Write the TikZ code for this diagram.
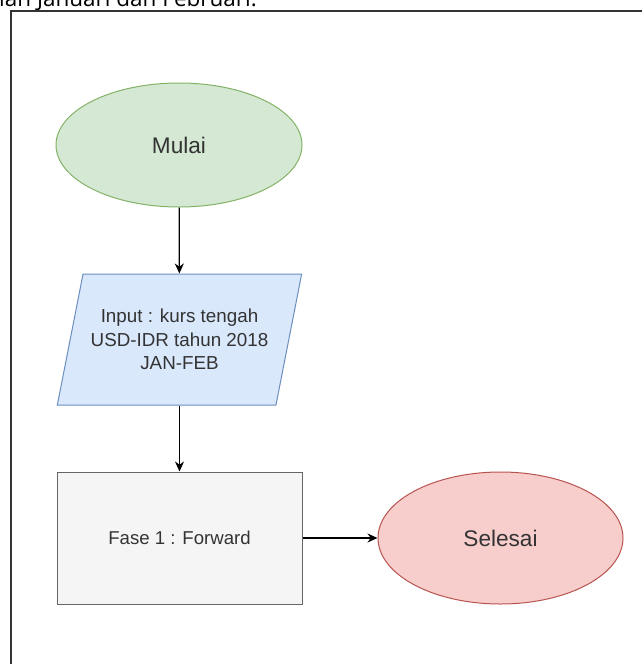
\documentclass[tikz,border=0pt]{standalone}
\usepackage{fontspec}
\setmainfont{Liberation Sans}
\newfontfamily\docfont{Open Sans}
\usetikzlibrary{shapes.geometric, arrows.meta}

\definecolor{hijau}{HTML}{D5E8D4}
\definecolor{hijaugaris}{HTML}{82B366}
\definecolor{biru}{HTML}{DAE8FC}
\definecolor{birugaris}{HTML}{6C8EBF}
\definecolor{abu}{HTML}{F5F5F5}
\definecolor{abugaris}{HTML}{666666}
\definecolor{merah}{HTML}{F8CECC}
\definecolor{merahgaris}{HTML}{B85450}
\definecolor{teks}{HTML}{333333}

\tikzset{
    terminal/.style={ellipse, draw, line width=1, minimum width=246, minimum height=124, text=teks, font=\fontsize{22.6}{27}\selectfont},
    io/.style={trapezium, trapezium left angle=70, trapezium right angle=110, trapezium stretches=true, draw=birugaris, fill=biru, line width=1, minimum width=245, minimum height=131, text=teks, align=center, font=\fontsize{18.8}{23.5}\selectfont},
    proses/.style={rectangle, draw=abugaris, fill=abu, line width=1, minimum width=245, minimum height=132, text=teks, font=\fontsize{18.6}{22}\selectfont},
    panah/.style={->, line width=1.3}
}

\begin{document}
\begin{tikzpicture}[x=1pt, y=-1pt, >={Stealth[length=10, width=9]}]
\useasboundingbox (0,0) rectangle (642,664);

% sisa kalimat di atas bingkai
\node[anchor=base west, inner sep=0, font=\docfont\fontsize{22.5}{26}\selectfont] (kalimat) at (-1,6) {lan Januari dan Februari.};

% bingkai
\draw[line width=1.5, black!80] (11,680) -- (11,11) -- (680,11);

\node[terminal, draw=hijaugaris, fill=hijau] (mulai) at (179,145) {Mulai};
\node[io] (input) at (179.5,339.5) {Input : kurs tengah\\USD-IDR tahun 2018\\JAN-FEB};
\node[proses] (fase) at (179.5,538) {Fase 1 : Forward};
\node[terminal, draw=merahgaris, fill=merah, minimum width=245, minimum height=132] (selesai) at (500.5,538) {Selesai};

\draw[panah] (mulai) -- (input);
\draw[panah] (input) -- (fase);
\draw[panah] (fase) -- (selesai);

\end{tikzpicture}
\end{document}
